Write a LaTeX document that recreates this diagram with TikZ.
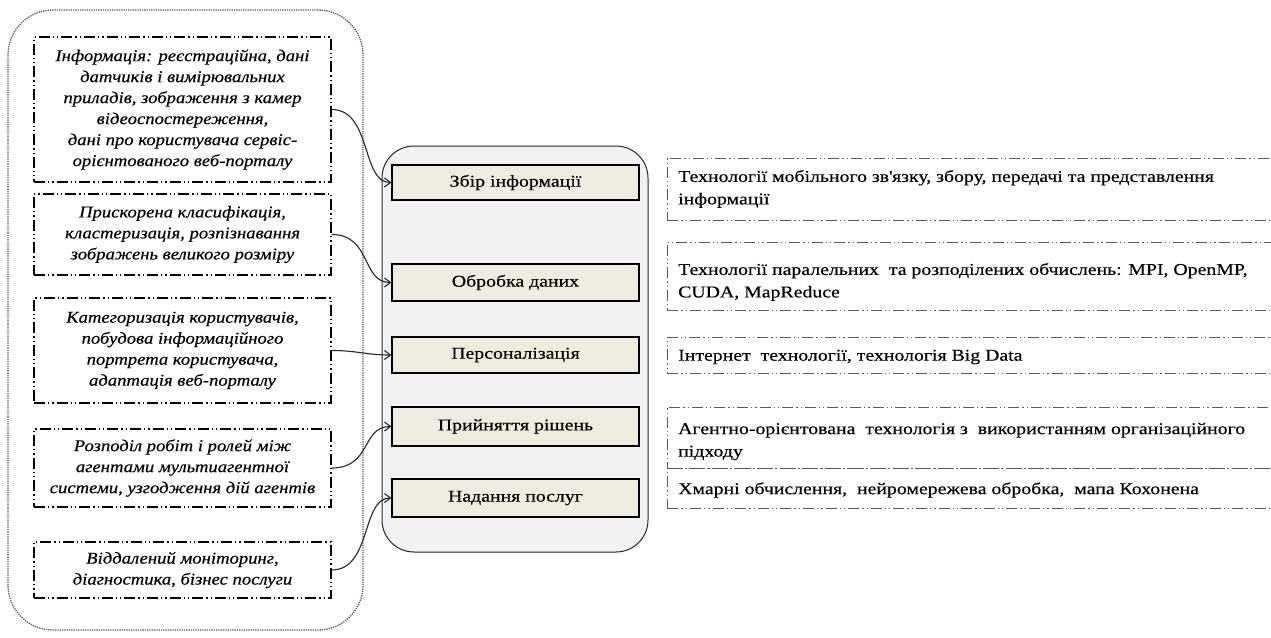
\documentclass[tikz,border=0pt]{standalone}
\usepackage{fontspec}
\setmainfont{Liberation Serif}
\newfontfamily\wideserif[FakeStretch=1.2,FakeBold=0.4]{Liberation Serif}
\newfontfamily\wideital[FakeStretch=1.13,FakeBold=0.4]{Liberation Serif Italic}
\usetikzlibrary{arrows.meta}
\definecolor{coreFill}{HTML}{F2F2F2}
\definecolor{stepFill}{HTML}{EEECE1}
\tikzset{
  ddline/.style={dash pattern=on 11pt off 3pt on 1.3pt off 3pt on 1.3pt off 3pt},
  leftbox/.style={draw=black, line width=1.3pt, ddline, minimum width=297pt, inner sep=0pt,
     font=\fontsize{16.5}{21}\wideital, align=center},
  stepbox/.style={draw=black, line width=1.3pt, fill=stepFill, minimum width=247pt, inner sep=0pt,
     font=\fontsize{16.5}{21}\wideserif},
  rightbox/.style={draw=black!65, line width=0.9pt, ddline, minimum width=620pt, inner sep=0pt, anchor=west},
  righttext/.style={anchor=west, inner sep=0pt, align=left, font=\fontsize{16.5}{22.5}\wideserif},
  conn/.style={draw=black!85, line width=1.1pt, -{Straight Barb[length=6pt,width=9pt]}},
}
\begin{document}
\begin{tikzpicture}[x=1pt,y=-1pt]
\useasboundingbox (0,0) rectangle (1271,637);
% outer dotted frame
\node[draw=black!65, line width=1.3pt, densely dotted, rounded corners=45pt, minimum width=355pt, minimum height=620pt, inner sep=0pt] (frame) at (185.5,320) {};
% central frame
\node[draw=black!85, line width=1pt, fill=coreFill, rounded corners=32pt, minimum width=266pt, minimum height=406pt, inner sep=0pt] (core) at (515,349) {};
% left boxes
\node[leftbox, minimum height=145pt] (l1) at (182.5,109.5) {Інформація: реєстраційна, дані\\датчиків і вимірювальних\\приладів, зображення з камер\\відеоспостереження,\\дані про користувача сервіс-\\орієнтованого веб-порталу};
\node[leftbox, minimum height=81pt] (l2) at (182.5,234.5) {Прискорена класифікація,\\кластеризація, розпізнавання\\зображень великого розміру};
\node[leftbox, minimum height=105pt] (l3) at (182.5,350.5) {Категоризація користувачів,\\побудова інформаційного\\портрета користувача,\\адаптація веб-порталу};
\node[leftbox, minimum height=78pt] (l4) at (182.5,468) {Розподіл робіт і ролей між\\агентами мультиагентної\\системи, узгодження дій агентів};
\node[leftbox, minimum height=56pt] (l5) at (182.5,570) {Віддалений моніторинг,\\діагностика, бізнес послуги};
% central steps
\node[stepbox, minimum height=35pt] (b1) at (515.5,182.5) {Збір інформації};
\node[stepbox, minimum height=37pt] (b2) at (515.5,282.5) {Обробка даних};
\node[stepbox, minimum height=36pt] (b3) at (515.5,355) {Персоналізація};
\node[stepbox, minimum height=39pt] (b4) at (515.5,426.5) {Прийняття рішень};
\node[stepbox, minimum height=38pt] (b5) at (515.5,498) {Надання послуг};
% right boxes
\node[rightbox, minimum height=62pt] (r1) at (667,189) {};
\node[rightbox, minimum height=68pt] (r2) at (667,276) {};
\node[rightbox, minimum height=36pt] (r3) at (667,355) {};
\node[rightbox, minimum height=61pt] (r4) at (667,437.5) {};
\node[rightbox, minimum height=40pt] (r5) at (667,488) {};
\node[righttext] (t1) at (678,189) {Технології мобільного зв\textquotesingle язку, збору, передачі та представлення\\інформації};
\node[righttext] (t2) at (678,282) {Технології паралельних\ \ та розподілених обчислень: MPI, OpenMP,\\CUDA, MapReduce};
\node[righttext] (t3) at (678,357) {Інтернет\ \ технології, технологія Big Data};
\node[righttext] (t4) at (678,441.5) {Агентно-орієнтована\ \ технологія з\ \ використанням організаційного\\підходу};
\node[righttext] (t5) at (678,490) {Хмарні обчислення,\ \ нейромережева обробка,\ \ мапа Кохонена};
% connectors
\draw[conn] (l1.east) .. controls +(40,0) and +(-30,0) .. (b1.west);
\draw[conn] (l2.east) .. controls +(40,0) and +(-30,0) .. (b2.west);
\draw[conn] (l3.east) .. controls +(25,0) and +(-25,0) .. (b3.west);
\draw[conn] (l4.east) .. controls +(40,0) and +(-30,0) .. (b4.west);
\draw[conn] (l5.east) .. controls +(40,0) and +(-30,0) .. (b5.west);
\end{tikzpicture}
\end{document}
